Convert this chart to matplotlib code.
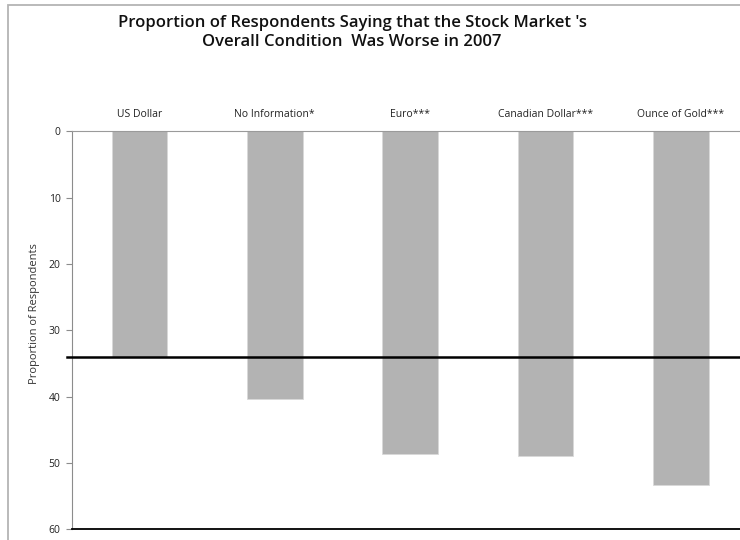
import matplotlib
matplotlib.use("Agg")
import matplotlib.pyplot as plt
from matplotlib.patches import Rectangle

categories = ["US Dollar", "No Information*", "Euro***", "Canadian Dollar***", "Ounce of Gold***"]
values = [34.1, 40.4, 48.7, 48.9, 53.3]
reference_line = 34.1
yticks = [0, 10, 20, 30, 40, 50, 60]

plt.rcParams['font.family'] = ['Open Sans', 'DejaVu Sans']

fig = plt.figure(figsize=(7.4, 5.4), dpi=100)
W, H = 740, 540

# outer chart frame (left and top visible)
fig.add_artist(Rectangle((8 / W, -0.1), 1.2, (535 + 54) / H, transform=fig.transFigure,
                         fill=False, edgecolor="#b4b4b4", linewidth=1.3))

ax = fig.add_axes([71.7 / W, (H - 529.3) / H, 677 / W, (529.3 - 131.3) / H])
x = list(range(len(categories)))
ax.bar(x, values, width=0.41, color="#b3b3b3", edgecolor="#d9d9d9", linewidth=0.6, zorder=2)
ax.set_xlim(-0.5, len(categories) - 0.5)
ax.set_ylim(60, 0)

ax.axhline(reference_line, xmin=-0.007, xmax=1, color="black", linewidth=1.8, clip_on=False, zorder=3)

ax.set_yticks(yticks)
ax.set_yticklabels([str(t) for t in yticks], fontsize=7.5, color="#222222")
ax.tick_params(axis="y", length=4, color="#8c8c8c", width=0.8, pad=4)

ax.xaxis.tick_top()
ax.set_xticks(x)
ax.set_xticklabels(categories, fontsize=7.5, color="#222222")
ax.tick_params(axis="x", length=0, pad=8)

ax.spines["right"].set_visible(False)
ax.spines["left"].set_color("#8c8c8c")
ax.spines["left"].set_linewidth(0.8)
ax.spines["top"].set_color("#9a9a9a")
ax.spines["top"].set_linewidth(0.8)
ax.spines["bottom"].set_color("black")
ax.spines["bottom"].set_linewidth(1.3)

ax.set_ylabel("Proportion of Respondents", fontsize=8, color="#333333")
ax.yaxis.set_label_coords(-0.047, 0.541)

fig.text(352 / W, 1 - 32.5 / H,
         "Proportion of Respondents Saying that the Stock Market 's\nOverall Condition  Was Worse in 2007",
         ha="center", va="center", multialignment="center", fontsize=12, fontweight="semibold",
         linespacing=1.3, color="#111111")

fig.savefig("out.png", dpi=100)
